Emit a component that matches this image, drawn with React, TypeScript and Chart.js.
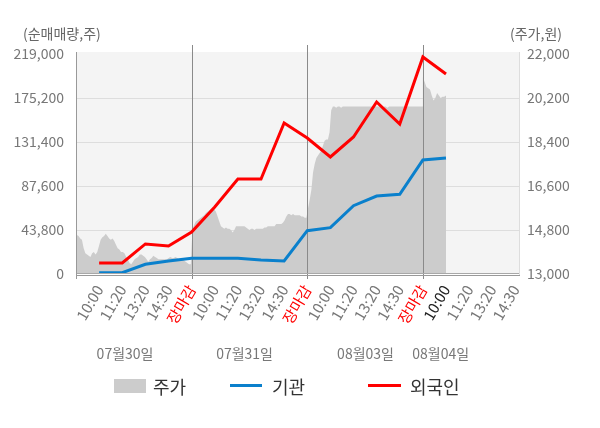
import { useEffect, useRef } from 'react'
import { Chart, registerables, type Plugin } from 'chart.js'

Chart.register(...registerables)

const FONT = "'Noto Sans CJK KR', 'Noto Sans', sans-serif"
const RED = '#ff0000'
const BLUE = '#0a80cc'
const AREA = '#cccccc'
const PLOT_BG = '#f4f4f4'
const TICK = '#777777'

// x axis: one slot per time label, 5 slots per trading day
const TIME_LABELS = [
  '10:00', '11:20', '13:20', '14:30', '장마감',
  '10:00', '11:20', '13:20', '14:30', '장마감',
  '10:00', '11:20', '13:20', '14:30', '장마감',
  '10:00', '11:20', '13:20', '14:30',
]
const DAY_LABELS = ['07월30일', '07월31일', '08월03일', '08월04일']
const DAY_LABEL_AT = [2.12, 7.29, 12.52, 15.77]
const SLOTS_PER_DAY = 5
const X_MAX = 19.2

const LEFT_TICKS = [0, 43800, 87600, 131400, 175200, 219000]
const RIGHT_TICKS = [13000, 14800, 16600, 18400, 20200, 22000]

// cumulative net buying (shares), one value per time slot
const INSTITUTION = [1300, 1300, 9700, 12900, 15600, 15600, 15600, 14000, 13000, 43100, 46100, 68000, 77600, 79300, 113500, 115500]
const FOREIGN = [11000, 11000, 29900, 27900, 41800, 66700, 94600, 94600, 150300, 135400, 116500, 136400, 171200, 149300, 216000, 199100]

// intraday price (won)
const PRICE_0730 = [
  14600, 14550, 14450, 14400, 14050, 13850, 13800, 13750, 13700, 13850,
  13900, 13800, 13900, 14150, 14400, 14500, 14550, 14650, 14550, 14450,
  14400, 14450, 14350, 14200, 14050, 14000, 13900, 13900, 13850, 13700,
  13600, 13450, 13400, 13500, 13600, 13650, 13700, 13800, 13800, 13750,
  13700, 13600, 13500, 13600, 13650, 13750, 13700, 13650, 13600, 13600,
  13600, 13600, 13600, 13600, 13650, 13700, 13650, 13650, 13700, 13650,
  13600, 13600, 13600, 13550, 13500, 13450, 13400, 13400,
]
const PRICE_0731 = [
  14850, 15000, 15150, 15200, 15250, 15300, 15350, 15400, 15500, 15550,
  15600, 15650, 15700, 15650, 15550, 15350, 15150, 14950, 14900, 14850,
  14900, 14850, 14850, 14800, 14700, 14800, 14950, 14950, 14950, 14950,
  14950, 14950, 14900, 14850, 14800, 14850, 14850, 14800, 14850, 14850,
  14850, 14850, 14850, 14900, 14900, 14950, 14950, 14950, 14950, 14950,
  15050, 15050, 15050, 15050, 15100, 15200, 15350, 15450, 15450, 15400,
  15450, 15400, 15400, 15400, 15400, 15350, 15350, 15300, 15300,
]
const PRICE_0803 = [
  15700, 16050, 16450, 17150, 17500, 17750, 17850, 17950, 18050, 18250,
  18450, 18500, 18500, 18800, 19700, 19850, 19850, 19800, 19850, 19850,
  19800, 19850, 19850, 19850, 19850, 19850, 19850, 19850, 19850, 19850,
  19850, 19850, 19850, 19850, 19850, 19850, 19850, 19850, 19850, 19850,
  19850, 19850, 19850, 19850, 19850, 19800, 19850, 19850, 19800, 19850,
  19850, 19850, 19850, 19850, 19850, 19850, 19850, 19850, 19850, 19850,
  19850, 19850, 19850, 19850, 19850, 19850, 19850, 19850, 19850, 19850,
]
const PRICE_0804 = [21050, 20850, 20650, 20600, 20550, 20300, 20100, 20200, 20400, 20300, 20200, 20250, 20250, 20300]

const FULL_DAYS = [PRICE_0730, PRICE_0731, PRICE_0803]

function pricePoints() {
  const pts = FULL_DAYS.flatMap((day, d) =>
    day.map((p, j) => ({ x: d * SLOTS_PER_DAY + (SLOTS_PER_DAY * (j + 0.5)) / day.length, y: p })),
  )
  const start = FULL_DAYS.length * SLOTS_PER_DAY
  PRICE_0804.forEach((p, j) => pts.push({ x: start + j / (PRICE_0804.length - 1), y: p }))
  return pts
}

const slotPoints = (vals: number[]) => vals.map((v, i) => ({ x: i + 1, y: v }))

const decor: Plugin<'line'> = {
  id: 'decor',
  beforeDraw(chart) {
    const { ctx, chartArea: a } = chart
    ctx.save()
    ctx.fillStyle = PLOT_BG
    ctx.fillRect(a.left, a.top - 2, a.right - a.left, a.bottom - a.top + 2)
    ctx.restore()
  },
  beforeDatasetDraw(chart, args) {
    // day separators sit above the price area but under the two lines
    if (args.index !== 1) return
    const { ctx, chartArea: a, scales } = chart
    ctx.save()
    ctx.strokeStyle = '#8a8a8a'
    ctx.lineWidth = 1
    for (let d = 1; d < DAY_LABELS.length; d++) {
      const px = Math.round(scales.x.getPixelForValue(d * SLOTS_PER_DAY)) + 0.5
      ctx.beginPath()
      ctx.moveTo(px, a.top - 9)
      ctx.lineTo(px, a.bottom + 5)
      ctx.stroke()
    }
    ctx.restore()
  },
  afterDatasetsDraw(chart) {
    const { ctx, chartArea: a, scales } = chart
    const seg = (x1: number, y1: number, x2: number, y2: number, c: string) => {
      ctx.strokeStyle = c
      ctx.beginPath()
      ctx.moveTo(x1, y1)
      ctx.lineTo(x2, y2)
      ctx.stroke()
    }
    ctx.save()
    ctx.lineWidth = 1
    seg(a.left, a.bottom - 0.5, a.right, a.bottom - 0.5, '#a8a8a8')
    seg(a.left, a.bottom + 1.5, a.right, a.bottom + 1.5, '#999999')
    seg(a.left + 0.5, a.top - 2, a.left + 0.5, a.bottom + 5, '#999999')
    seg(a.right - 0.5, a.top - 2, a.right - 0.5, a.bottom + 1, '#dddddd')

    ctx.font = `14px ${FONT}`
    ctx.fillStyle = '#666666'
    ctx.textBaseline = 'middle'
    ctx.textAlign = 'left'
    ctx.fillText('(순매매량,주)', 23, 34)
    ctx.fillText('(주가,원)', a.right - 10, 34)

    ctx.fillStyle = TICK
    ctx.textAlign = 'center'
    DAY_LABELS.forEach((lab, i) => {
      ctx.fillText(lab, scales.x.getPixelForValue(DAY_LABEL_AT[i]), 354)
    })
    ctx.restore()
  },
}

export default function App() {
  const canvasRef = useRef<HTMLCanvasElement>(null)

  useEffect(() => {
    const canvas = canvasRef.current
    if (!canvas) return
    Chart.getChart(canvas)?.destroy()
    Chart.defaults.font.family = FONT

    const chart = new Chart(canvas, {
      type: 'line',
      data: {
        datasets: [
          {
            label: '주가',
            data: pricePoints(),
            yAxisID: 'y1',
            fill: 'start',
            backgroundColor: AREA,
            borderColor: AREA,
            borderWidth: 0,
            pointRadius: 0,
            order: 3,
          },
          {
            label: '기관',
            data: slotPoints(INSTITUTION),
            yAxisID: 'y',
            borderColor: BLUE,
            borderWidth: 3,
            pointRadius: 0,
            tension: 0,
            fill: false,
            order: 2,
          },
          {
            label: '외국인',
            data: slotPoints(FOREIGN),
            yAxisID: 'y',
            borderColor: RED,
            borderWidth: 3,
            pointRadius: 0,
            tension: 0,
            fill: false,
            order: 1,
          },
        ],
      },
      options: {
        responsive: false,
        animation: false,
        events: [],
        layout: { padding: { top: 54, bottom: 74, left: 0, right: 0 } },
        plugins: { legend: { display: false }, tooltip: { enabled: false } },
        scales: {
          x: {
            type: 'linear',
            min: 0,
            max: X_MAX,
            afterBuildTicks: (s) => { s.ticks = TIME_LABELS.map((_, i) => ({ value: i + 1 })) },
            afterFit: (s) => { s.height = 80 },
            grid: { display: false, drawTicks: false },
            border: { display: false },
            ticks: {
              autoSkip: false,
              minRotation: 60,
              maxRotation: 60,
              padding: 8,
              font: { size: 15 },
              color: (c) => {
                const lab = TIME_LABELS[c.index]
                if (lab === '장마감') return RED
                if (c.index === 15) return '#222222'
                return TICK
              },
              callback: (_v, i) => TIME_LABELS[i],
            },
          },
          y: {
            position: 'left',
            min: 0,
            max: 219000,
            afterBuildTicks: (s) => { s.ticks = LEFT_TICKS.map((v) => ({ value: v })) },
            afterFit: (s) => { s.width = 76 },
            grid: {
              drawTicks: false,
              color: (c) => (c.tick && c.tick.value > 0 && c.tick.value < 219000 ? '#dddddd' : 'rgba(0,0,0,0)'),
            },
            border: { display: false },
            ticks: {
              padding: 12,
              color: TICK,
              font: { size: 14 },
              callback: (v) => Number(v).toLocaleString('en-US'),
            },
          },
          y1: {
            position: 'right',
            min: 13000,
            max: 22000,
            afterBuildTicks: (s) => { s.ticks = RIGHT_TICKS.map((v) => ({ value: v })) },
            afterFit: (s) => { s.width = 80 },
            grid: { display: false, drawTicks: false },
            border: { display: false },
            ticks: {
              padding: 7,
              color: TICK,
              font: { size: 14 },
              callback: (v) => Number(v).toLocaleString('en-US'),
            },
          },
        },
      },
      plugins: [decor],
    })
    return () => chart.destroy()
  }, [])

  const legendText = { position: 'absolute' as const, top: 375, fontSize: 18, lineHeight: '22px', color: '#333333' }

  return (
    <div style={{ position: 'fixed', left: 0, top: 0, width: 600, height: 428, background: '#ffffff', fontFamily: FONT }}>
      <canvas ref={canvasRef} width={600} height={428} style={{ position: 'absolute', left: 0, top: 0 }} />
      <div style={{ position: 'absolute', left: 114, top: 379, width: 32, height: 14, background: AREA }} />
      <span style={{ ...legendText, left: 153 }}>주가</span>
      <div style={{ position: 'absolute', left: 230, top: 384, width: 32, height: 3, background: BLUE }} />
      <span style={{ ...legendText, left: 272 }}>기관</span>
      <div style={{ position: 'absolute', left: 368, top: 384, width: 33, height: 3, background: RED }} />
      <span style={{ ...legendText, left: 410 }}>외국인</span>
    </div>
  )
}
